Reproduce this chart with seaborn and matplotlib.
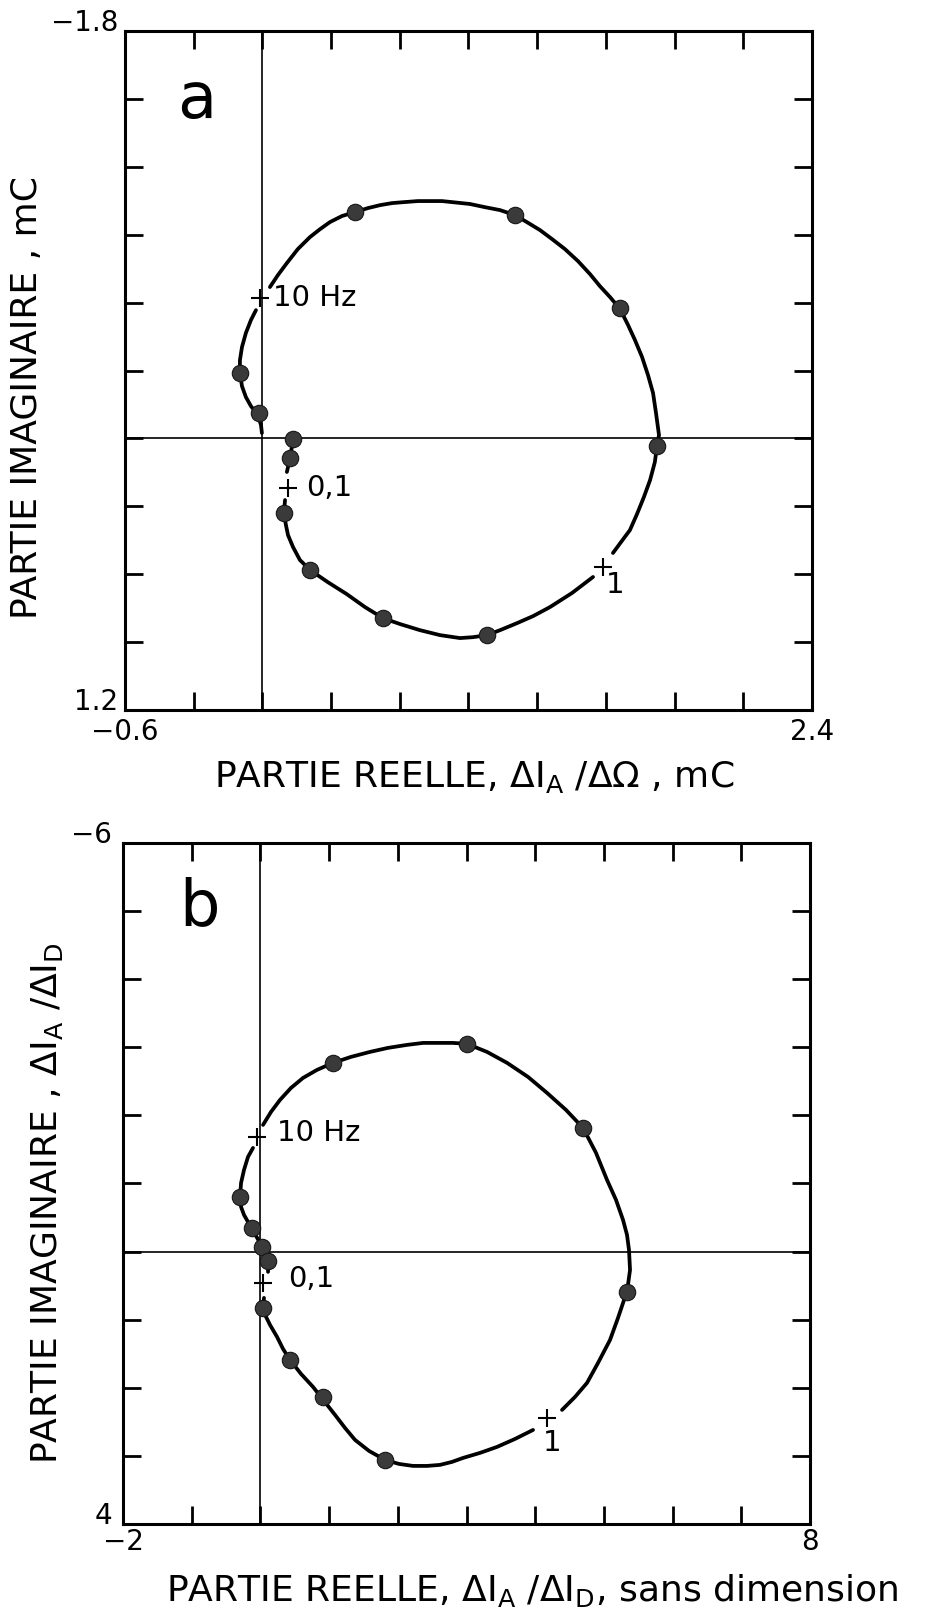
import numpy as np
import pandas as pd
import matplotlib
matplotlib.use("Agg")
import matplotlib.pyplot as plt
import seaborn as sns

# ---------------- Panel a : ΔI_A/ΔΩ (mC) ----------------
a_pts_re = [-0.098, -0.015, 0.134, 0.121, 0.094, 0.208, 0.527, 0.981, 1.723, 1.562, 1.103, 0.404]
a_pts_im = [-0.289, -0.112, 0.003, 0.087, 0.330, 0.581, 0.794, 0.869, 0.034, -0.576, -0.987, -1.000]

a_curve_re = [-0.002, -0.006, -0.019, -0.050, -0.072, -0.089, -0.098, -0.098, -0.089, -0.072, -0.050, -0.028,
              0.033, 0.068, 0.107, 0.155, 0.208, 0.252, 0.295, 0.348, 0.404, 0.461, 0.514, 0.566, 0.614,
              0.679, 0.732, 0.784, 0.832, 0.907, 0.972, 1.038, 1.103, 1.155, 1.212, 1.265, 1.321, 1.378,
              1.431, 1.474, 1.518, 1.562, 1.597, 1.627, 1.658, 1.684, 1.706, 1.719, 1.732, 1.723, 1.714,
              1.693, 1.666, 1.636, 1.605, 1.566, 1.531,
              1.444, 1.352, 1.256, 1.182, 1.112, 1.038, 0.981, 0.920, 0.863, 0.776, 0.688, 0.601, 0.527,
              0.448, 0.369, 0.286, 0.208, 0.164, 0.134, 0.112, 0.103, 0.094, 0.099,
              0.107, 0.121, 0.134]
a_curve_im = [-0.024, -0.059, -0.103, -0.143, -0.183, -0.231, -0.289, -0.346, -0.404, -0.466, -0.523, -0.567,
              -0.669, -0.722, -0.775, -0.837, -0.890, -0.925, -0.956, -0.983, -1.000, -1.018, -1.031, -1.040,
              -1.044, -1.049, -1.049, -1.049, -1.044, -1.036, -1.022, -1.009, -0.987, -0.956, -0.921, -0.881,
              -0.837, -0.784, -0.726, -0.673, -0.625, -0.572, -0.501, -0.435, -0.360, -0.280, -0.201, -0.112,
              -0.015, 0.034, 0.104, 0.184, 0.259, 0.334, 0.405, 0.458, 0.506,
              0.612, 0.683, 0.745, 0.785, 0.816, 0.847, 0.869, 0.878, 0.882, 0.869, 0.847, 0.820, 0.794,
              0.745, 0.688, 0.635, 0.581, 0.537, 0.480, 0.427, 0.383, 0.330, 0.272,
              0.148, 0.087, 0.003]
a_curve_seg = [0] * 12 + [1] * 45 + [2] * 23 + [3] * 3

a_freq_re = [-0.010, 0.112, 1.487]
a_freq_im = [-0.620, 0.219, 0.568]
a_freq_labels = ["10 Hz", "0,1", "1"]

a_xticks = [-0.6, -0.3, 0.0, 0.3, 0.6, 0.9, 1.2, 1.5, 1.8, 2.1, 2.4]
a_xticklabels = ["−0.6", "", "", "", "", "", "", "", "", "", "2.4"]
a_yticks = [-1.8, -1.5, -1.2, -0.9, -0.6, -0.3, 0.0, 0.3, 0.6, 0.9, 1.2]
a_yticklabels = ["−1.8", "", "", "", "", "", "", "", "", "", "1.2"]

# ---------------- Panel b : ΔI_A/ΔI_D ----------------
b_pts_re = [-0.297, -0.122, 0.023, 0.111, 0.038, 0.431, 0.911, 1.814, 5.336, 4.696, 3.007, 1.057]
b_pts_im = [-0.802, -0.347, -0.068, 0.138, 0.828, 1.592, 2.135, 3.060, 0.593, -1.815, -3.049, -2.770]

b_curve_re = [-0.108, -0.181, -0.239, -0.282, -0.297, -0.282, -0.239, -0.181, -0.122, -0.064, -0.006,
              0.038, 0.082, 0.111, 0.111,
              0.052, 0.038, 0.082, 0.140, 0.242, 0.329, 0.431, 0.591, 0.766, 0.926, 1.086, 1.231, 1.377,
              1.581, 1.814, 2.017, 2.221, 2.425, 2.614, 2.789, 2.949, 3.196, 3.444, 3.706, 3.968,
              4.390, 4.579, 4.754, 4.914, 5.089, 5.205, 5.293, 5.336, 5.380, 5.365, 5.336, 5.278, 5.176,
              5.045, 4.885, 4.696, 4.448, 4.172, 3.895, 3.590, 3.298, 3.007, 2.803, 2.614, 2.367, 2.134,
              1.857, 1.595, 1.319, 1.057, 0.824, 0.620, 0.445, 0.285, 0.154, 0.038]
b_curve_im = [-1.521, -1.389, -1.198, -1.007, -0.802, -0.655, -0.538, -0.435, -0.347, -0.229, -0.126,
              -0.024, 0.094, 0.211, 0.299,
              0.681, 0.828, 0.960, 1.078, 1.254, 1.430, 1.592, 1.797, 1.988, 2.194, 2.399, 2.590, 2.766,
              2.928, 3.060, 3.119, 3.148, 3.148, 3.133, 3.089, 3.031, 2.957, 2.869, 2.752, 2.620,
              2.326, 2.135, 1.929, 1.636, 1.298, 0.975, 0.711, 0.593, 0.270, -0.024, -0.244, -0.464,
              -0.758, -1.051, -1.448, -1.815, -2.079, -2.329, -2.564, -2.770, -2.931, -3.049, -3.063,
              -3.063, -3.063, -3.034, -2.990, -2.931, -2.858, -2.770, -2.667, -2.549, -2.402, -2.226,
              -2.050, -1.859]
b_curve_seg = [0] * 15 + [1] * 25 + [2] * 36

b_freq_re = [-0.049, 0.038, 4.172]
b_freq_im = [-1.683, 0.461, 2.443]
b_freq_labels = ["10 Hz", "0,1", "1"]

b_xticks = [-2, -1, 0, 1, 2, 3, 4, 5, 6, 7, 8]
b_xticklabels = ["−2", "", "", "", "", "", "", "", "", "", "8"]
b_yticks = [-6, -5, -4, -3, -2, -1, 0, 1, 2, 3, 4]
b_yticklabels = ["−6", "", "", "", "", "", "", "", "", "", "4"]

# ---------------- styling ----------------
sns.set_style("white")
plt.rcParams["font.family"] = ["DejaVu Sans"]
plt.rcParams["mathtext.fontset"] = "dejavusans"
plt.rcParams.update({
    "xtick.bottom": True, "xtick.top": True, "ytick.left": True, "ytick.right": True,
    "xtick.direction": "in", "ytick.direction": "in",
    "xtick.color": "black", "ytick.color": "black",
    "text.color": "black", "axes.labelcolor": "black",
})

fig = plt.figure(figsize=(9.25, 16.2), dpi=100)
ax_a = fig.add_axes([0.1351, 0.5617, 0.7427, 0.4191])
ax_b = fig.add_axes([0.1330, 0.0593, 0.7427, 0.4204])

label_offsets = {"10 Hz": ((9, 0), "left"), "0,1": ((13, 0), "left"), "1": ((9, -13), "center")}
label_offsets_b = {"10 Hz": ((14, 3), "left"), "0,1": ((18, 3), "left"), "1": ((4, -18), "center")}


def draw_panel(ax, pts_re, pts_im, c_re, c_im, c_seg, f_re, f_im, f_lab, offsets,
               xt, xtl, yt, ytl, xlabel, ylabel, letter, xpad, ypad):
    ax.axhline(0, color="black", lw=1.2, zorder=1)
    ax.axvline(0, color="black", lw=1.2, zorder=1)

    curve = pd.DataFrame({"re": c_re, "im": c_im, "seg": c_seg})
    sns.lineplot(data=curve, x="re", y="im", units="seg", estimator=None, sort=False,
                 color="black", lw=2.7, ax=ax, legend=False, zorder=2)
    sns.scatterplot(x=pts_re, y=pts_im, s=140, color="#3a3a3a", edgecolor="#151515",
                    linewidth=0.8, ax=ax, zorder=4)
    sns.scatterplot(x=f_re, y=f_im, marker="+", s=170, color="black", linewidth=1.5,
                    ax=ax, zorder=4)
    for r, i, lab in zip(f_re, f_im, f_lab):
        (dx, dy), ha = offsets[lab]
        ax.annotate(lab, xy=(r, i), xytext=(dx, dy), textcoords="offset points",
                    ha=ha, va="center", fontsize=21)

    ax.set_xlim(xt[0], xt[-1])
    ax.set_ylim(yt[-1], yt[0])
    ax.set_xticks(xt, xtl)
    ax.set_yticks(yt, ytl)
    ax.xaxis.set_ticks_position("both")
    ax.yaxis.set_ticks_position("both")
    ax.tick_params(axis="both", which="major", direction="in", length=13, width=2,
                   bottom=True, top=True, left=True, right=True,
                   labelbottom=True, labelleft=True, labeltop=False, labelright=False,
                   labelsize=20, color="black")
    ax.tick_params(axis="x", pad=xpad)
    ax.tick_params(axis="y", pad=ypad)
    ylabs = ax.get_yticklabels()
    ylabs[0].set_verticalalignment("baseline")
    ylabs[-1].set_verticalalignment("baseline")
    for sp in ax.spines.values():
        sp.set_visible(True)
        sp.set_linewidth(2.2)
        sp.set_color("black")
    ax.set_xlabel(xlabel, fontsize=26)
    ax.set_ylabel(ylabel, fontsize=26)
    ax.text(letter[1], letter[2], letter[0], transform=ax.transAxes, fontsize=46,
            ha="center", va="baseline")


draw_panel(ax_a, a_pts_re, a_pts_im, a_curve_re, a_curve_im, a_curve_seg,
           a_freq_re, a_freq_im, a_freq_labels, label_offsets,
           a_xticks, a_xticklabels, a_yticks, a_yticklabels,
           r"PARTIE REELLE, ΔI$_{\rm A}$ /ΔΩ , mC", "PARTIE IMAGINAIRE , mC",
           ("a", 0.105, 0.872), 6, 5)
draw_panel(ax_b, b_pts_re, b_pts_im, b_curve_re, b_curve_im, b_curve_seg,
           b_freq_re, b_freq_im, b_freq_labels, label_offsets_b,
           b_xticks, b_xticklabels, b_yticks, b_yticklabels,
           r"PARTIE REELLE, ΔI$_{\rm A}$ /ΔI$_{\rm D}$, sans dimension",
           r"PARTIE IMAGINAIRE , ΔI$_{\rm A}$ /ΔI$_{\rm D}$",
           ("b", 0.112, 0.880), 3, 8)

# label placement
ax_a.xaxis.set_label_coords(0.508, -0.072)
ax_a.xaxis.label.set_verticalalignment("top")
ax_a.yaxis.label.set_verticalalignment("center")
ax_a.yaxis.set_label_coords(-0.142, 0.46)
ax_b.xaxis.set_label_coords(0.595, -0.070)
ax_b.xaxis.label.set_verticalalignment("top")
ax_b.yaxis.label.set_verticalalignment("center")
ax_b.yaxis.set_label_coords(-0.111, 0.471)

fig.savefig("out.png", dpi=100)
